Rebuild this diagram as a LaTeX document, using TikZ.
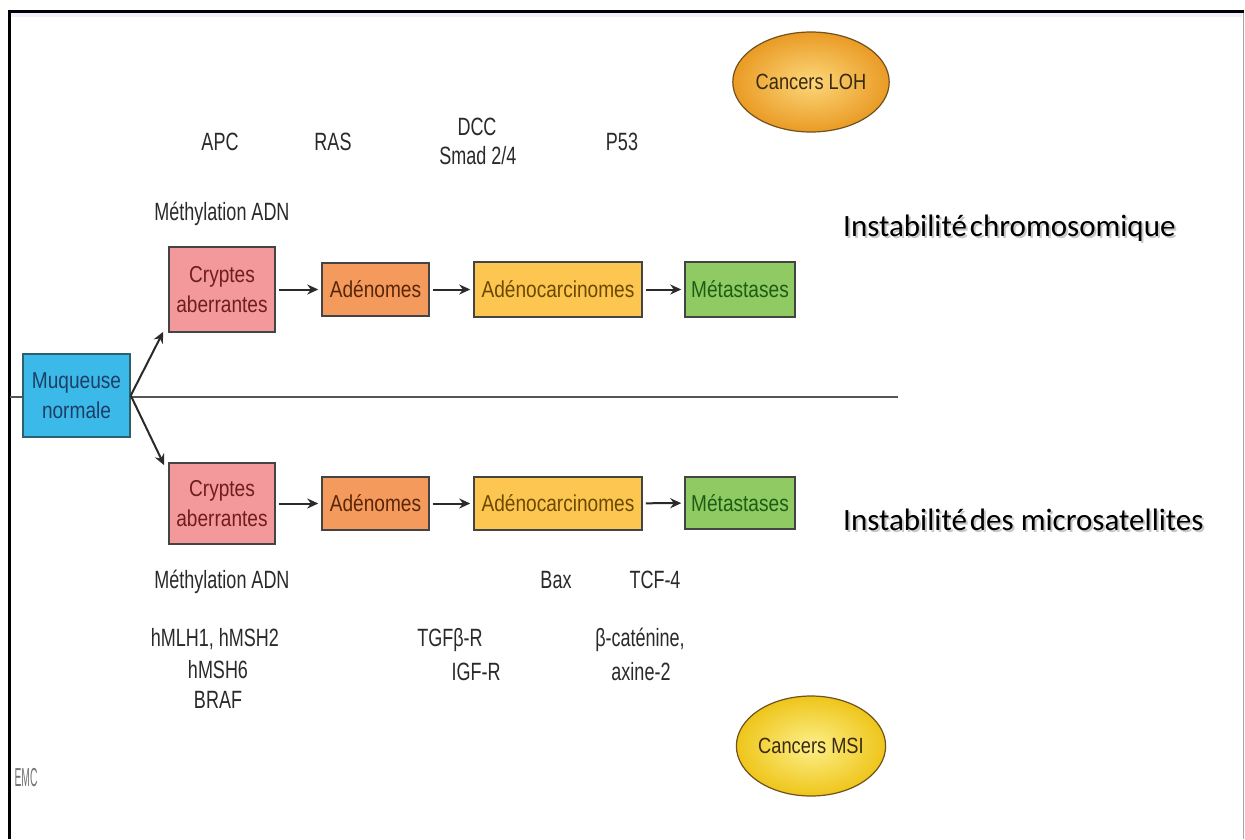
\documentclass[tikz,border=0pt]{standalone}
\usepackage{fontspec}
\setmainfont{Liberation Sans}
\newfontfamily\boxfont[FakeStretch=0.83]{Liberation Sans}
\newfontfamily\labfont[FakeStretch=0.72]{Liberation Sans}
\newfontfamily\bigfont{Carlito}
\usetikzlibrary{arrows.meta,calc,shapes.geometric}
\definecolor{boxline}{HTML}{444444}
\definecolor{arrcol}{HTML}{2A2A2A}
\definecolor{divcol}{HTML}{555555}
\definecolor{labtext}{HTML}{2A2A2A}
\definecolor{muqfill}{HTML}{3BB9E8}
\definecolor{muqtext}{HTML}{1D3F66}
\definecolor{muqline}{HTML}{2D5F6E}
\definecolor{crfill}{HTML}{F4999B}
\definecolor{crtext}{HTML}{6E1E1E}
\definecolor{adfill}{HTML}{F39A5C}
\definecolor{adtext}{HTML}{5A2608}
\definecolor{acfill}{HTML}{FCC651}
\definecolor{actext}{HTML}{6B4A00}
\definecolor{mefill}{HTML}{8FCB62}
\definecolor{metext}{HTML}{1E5C16}
\definecolor{ovalline}{HTML}{6E5220}
\definecolor{ovaltext}{HTML}{3A2A10}
\definecolor{lohin}{HTML}{FCD77A}
\definecolor{lohout}{HTML}{EA9B25}
\definecolor{msiin}{HTML}{FDF08A}
\definecolor{msiout}{HTML}{EEC51A}
\begin{document}
\begin{tikzpicture}[x=1pt,y=-1pt,
  box/.style={draw=boxline, line width=1.5pt, inner sep=0pt, align=center,
    font=\boxfont\fontsize{23}{30}\selectfont},
  lab/.style={font=\labfont\fontsize{25}{28}\selectfont, text=labtext, inner sep=0pt, anchor=base},
  arr/.style={draw=arrcol, line width=2pt, -{Stealth[length=11pt,width=10pt]}},
  harr/.style={arr, shorten <=3pt, shorten >=3pt},
  big/.style={font=\bigfont\fontsize{31}{36}\selectfont, inner sep=0pt, anchor=base west},
  oval/.style={ellipse, draw=ovalline, line width=1.2pt, minimum width=132pt, minimum height=100pt,
    inner sep=0pt, font=\boxfont\fontsize{22}{26}\selectfont, text=ovaltext}
]
\useasboundingbox (0,0) rectangle (1245,839);
\fill[white] (0,0) rectangle (1245,839);
% frame
\fill[blue!6] (10,12.5) rectangle (1242,17);
\draw[line width=3pt, black] (9,839) -- (9,11) -- (1244,11);
\draw[line width=1pt, black!35] (1243,12.5) -- (1243,839);
% divider
\coordinate (divL) at (10,397);
\coordinate (divR) at (898,397);
\draw[line width=2pt, divcol] (divL) -- (divR);

% boxes
\node[box, draw=muqline, fill=muqfill, text=muqtext, minimum width=107pt, minimum height=83pt] (muq) at (76.5,395.5) {Muqueuse\\normale};

\node[box, fill=crfill, text=crtext, minimum width=106pt, minimum height=85pt] (cr1) at (222,289.5) {Cryptes\\aberrantes};
\node[box, fill=adfill, text=adtext, minimum width=107pt, minimum height=53pt] (ad1) at (375.5,289.5) {Adénomes};
\node[box, fill=acfill, text=actext, minimum width=168pt, minimum height=55pt] (ac1) at (558,289.5) {Adénocarcinomes};
\node[box, fill=mefill, text=metext, minimum width=110pt, minimum height=55pt] (me1) at (740,289.5) {Métastases};

\node[box, fill=crfill, text=crtext, minimum width=106pt, minimum height=81pt] (cr2) at (222,503.5) {Cryptes\\aberrantes};
\node[box, fill=adfill, text=adtext, minimum width=107pt, minimum height=53pt] (ad2) at (375.5,503.5) {Adénomes};
\node[box, fill=acfill, text=actext, minimum width=168pt, minimum height=53pt] (ac2) at (558,503.5) {Adénocarcinomes};
\node[box, fill=mefill, text=metext, minimum width=110pt, minimum height=52pt] (me2) at (740,503) {Métastases};

% arrows
\draw[arr] (muq.east) -- ($(cr1.south west)+(-5,-1)$);
\draw[arr] (muq.east) -- ($(cr2.north west)+(-4,3)$);
\draw[harr] (cr1) -- (ad1);
\draw[harr] (ad1) -- (ac1);
\draw[harr] (ac1) -- (me1);
\draw[harr] (cr2) -- (ad2);
\draw[harr] (ad2) -- (ac2);
\draw[harr] (ac2) -- (me2);

% top labels
\node[lab] (apc) at (220,150) {APC};
\node[lab] (ras) at (333,150) {RAS};
\node[lab] (dcc) at (477,135) {DCC};
\node[lab] (smad) at (478,164) {Smad 2/4};
\node[lab] (p53) at (622,150) {P53};
\node[lab] (meth1) at (222,220) {Méthylation ADN};

% bottom labels
\node[lab] (meth2) at (222,588) {Méthylation ADN};
\node[lab] (bax) at (556,588) {Bax};
\node[lab] (tcf) at (655,588) {TCF-4};
\node[lab] (hmlh) at (215,646) {hMLH1, hMSH2};
\node[lab] (hmsh6) at (218,678) {hMSH6};
\node[lab] (braf) at (218,708) {BRAF};
\node[lab] (tgf) at (450,646) {TGFβ-R};
\node[lab] (igf) at (476,680) {IGF-R};
\node[lab] (bcat) at (640,646) {β-caténine,};
\node[lab] (axine) at (641,680) {axine-2};

% ellipses
\node[oval, inner color=lohin, outer color=lohout] (loh) at (811,82) {Cancers LOH};
\node[oval, inner color=msiin, outer color=msiout] (msi) at (811,746) {Cancers MSI};

% big titles
\node[big, text=black!22] (t1s) at (845,238) {Instabilité\hspace{3pt}chromosomique};
\node[big, text=black] (t1) at (843,236) {Instabilité\hspace{3pt}chromosomique};
\node[big, text=black!22] (t2s) at (845,532) {Instabilité\hspace{3pt}des microsatellites};
\node[big, text=black] (t2) at (843,530) {Instabilité\hspace{3pt}des microsatellites};

% logo
\node[font=\labfont\fontsize{26}{26}\selectfont, text=black!55, xscale=0.55] (emc) at (26,778) {EMC};
\end{tikzpicture}
\end{document}
